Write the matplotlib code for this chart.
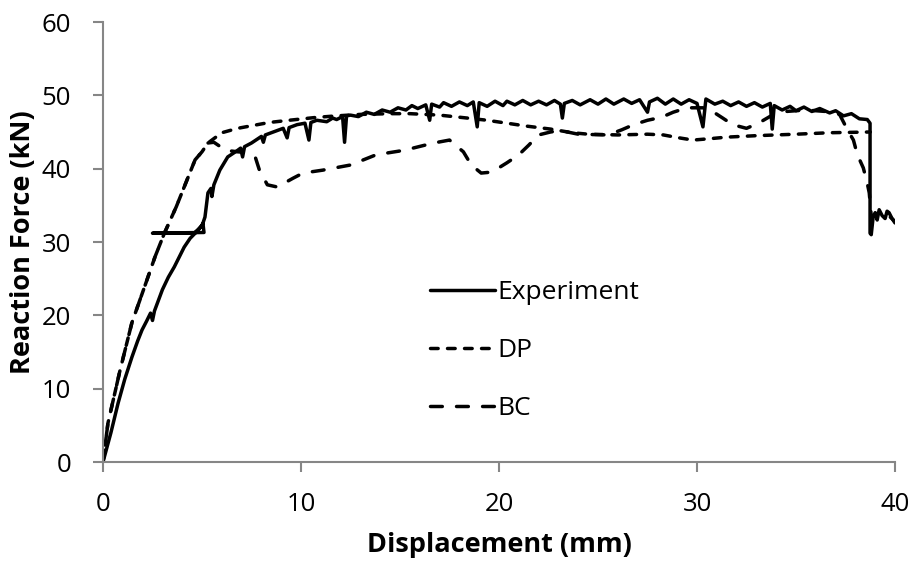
import matplotlib
matplotlib.use('Agg')
import matplotlib.pyplot as plt

plt.rcParams['font.family'] = ['Open Sans', 'DejaVu Sans']

# Experiment (solid)
exp_x = [0, 0.4, 0.76, 1.1, 1.46, 1.75, 1.97, 2.2, 2.4, 2.5, 2.6, 3.0, 3.3, 3.6, 4.1, 4.4, 4.8, 5.05, 5.1, 2.5,
         4.6, 5.0, 5.15, 5.3, 5.45, 5.5, 5.6, 5.9, 6.3, 6.8, 6.95, 7.05, 7.15, 7.5, 8.0, 8.1, 8.2, 8.6, 9.1, 9.3,
         9.4, 9.8, 10.2, 10.4, 10.5, 10.8, 11.3, 11.6, 11.8, 12.1, 12.2, 12.3, 12.5, 12.9, 13.3, 13.7, 14.1, 14.5, 14.9, 15.3,
         15.6, 15.9, 16.3, 16.5, 16.6, 17.0, 17.2, 17.6, 18.0, 18.4, 18.7, 18.9, 19.0, 19.4, 19.8, 20.2, 20.4, 20.8, 21.2, 21.6,
         22.0, 22.4, 22.8, 23.1, 23.2, 23.3, 23.7, 24.1, 24.6, 25.0, 25.4, 25.8, 26.3, 26.7, 27.1, 27.5, 27.6, 28.0, 28.4, 28.8,
         29.2, 29.6, 30.0, 30.3, 30.45, 30.9, 31.3, 31.7, 32.1, 32.5, 32.9, 33.3, 33.7, 33.8, 33.9, 34.3, 34.7, 35.0, 35.4, 35.8,
         36.2, 36.7, 37.0, 37.4, 37.8, 38.2, 38.6, 38.74, 38.74, 38.8, 38.9, 39.0, 39.1, 39.2, 39.35, 39.5, 39.6, 39.7, 39.85, 40.0]
exp_y = [0, 4.0, 8.0, 11.3, 14.3, 16.5, 18.0, 19.2, 20.3, 19.3, 20.6, 23.5, 25.2, 26.6, 29.3, 30.5, 31.6, 32.5, 31.3, 31.2,
         31.2, 32.2, 33.4, 36.7, 37.3, 36.2, 37.8, 39.8, 41.6, 42.5, 42.8, 41.6, 43.0, 43.5, 44.4, 43.6, 44.6, 45.0, 45.5, 44.2,
         45.6, 46.0, 46.2, 43.9, 46.3, 46.6, 46.4, 46.9, 46.7, 47.1, 43.6, 47.2, 47.3, 47.1, 47.7, 47.4, 48.0, 47.7, 48.3, 48.0,
         48.6, 48.2, 48.7, 46.6, 48.8, 48.4, 49.0, 48.5, 49.1, 48.6, 49.1, 45.7, 49.0, 48.5, 49.2, 48.6, 49.2, 48.7, 49.3, 48.7,
         49.2, 48.7, 49.3, 48.8, 46.9, 48.9, 49.3, 48.7, 49.4, 48.8, 49.5, 48.8, 49.5, 48.9, 49.4, 47.7, 49.1, 49.6, 48.8, 49.5,
         48.8, 49.4, 48.9, 45.7, 49.5, 48.8, 49.2, 48.6, 49.1, 48.5, 49.0, 48.4, 48.9, 45.4, 48.6, 48.0, 48.5, 47.9, 48.4, 47.8,
         48.2, 47.6, 47.9, 47.2, 47.5, 46.8, 46.7, 46.2, 31.2, 31.0, 33.5, 34.0, 33.0, 34.4, 33.6, 33.2, 34.2, 34.0, 33.2, 32.6]

# DP (short dashes)
dp_x = [0, 0.25, 0.86, 1.46, 2.1, 2.63, 3.1, 3.7, 4.1, 4.65, 5.0, 5.3, 6.0, 6.8, 7.8, 8.4, 9.4, 10.8, 11.8, 13.0,
        14.5, 15.5, 17.0, 18.4, 19.4, 20.4, 21.4, 22.6, 23.7, 24.5, 26.0, 27.5, 28.3, 29.1, 29.8, 30.7, 31.5, 33.0, 35.0, 36.7,
        38.75]
dp_y = [0, 5.3, 12.5, 19.0, 23.9, 28.0, 31.2, 34.8, 37.5, 41.2, 42.3, 43.5, 44.9, 45.5, 46.0, 46.3, 46.6, 47.0, 47.2, 47.4,
        47.5, 47.5, 47.3, 46.9, 46.6, 46.2, 45.8, 45.4, 44.9, 44.7, 44.6, 44.7, 44.6, 44.2, 43.9, 44.1, 44.3, 44.5, 44.7, 44.9,
        45.0]

# BC (long dashes)
bc_x = [0, 0.25, 0.86, 1.46, 2.1, 2.63, 3.1, 3.7, 4.1, 4.65, 5.0, 5.3, 5.6, 6.2, 6.8, 7.3, 7.7, 7.9, 8.3, 8.8,
        9.6, 10.1, 11.1, 12.5, 13.8, 15.2, 16.7, 17.5, 18.2, 18.6, 19.1, 19.5, 19.8, 20.4, 21.0, 21.5, 22.0, 22.6, 23.1, 24.0,
        25.5, 26.2, 26.8, 27.5, 28.2, 28.8, 29.5, 30.3, 30.9, 31.3, 31.8, 32.5, 33.1, 33.8, 34.5, 35.5, 36.5, 37.2, 37.6, 37.9,
        38.1, 38.4, 38.6, 38.7, 38.8, 39.2, 39.6, 40.0]
bc_y = [0, 5.3, 12.5, 19.0, 23.9, 28.0, 31.2, 34.8, 37.5, 41.2, 42.3, 43.5, 43.6, 42.5, 42.3, 42.2, 41.5, 39.8, 37.8, 37.5,
        38.7, 39.4, 39.8, 40.5, 41.9, 42.5, 43.5, 43.9, 42.3, 40.5, 39.4, 39.5, 39.8, 40.8, 41.9, 43.2, 44.6, 45.0, 45.2, 44.7,
        44.6, 45.3, 46.0, 46.6, 47.0, 47.7, 48.3, 48.3, 47.6, 46.9, 46.0, 45.5, 46.2, 47.3, 47.8, 48.0, 47.8, 47.4, 45.3, 43.9,
        41.9, 40.1, 38.0, 36.7, 33.5, 34.0, 33.8, 32.8]

fig = plt.figure(figsize=(9.14, 5.63), dpi=100)
ax = fig.add_axes([103 / 914, 1 - 462 / 563, 792 / 914, 440 / 563])

lw = 2.5
ax.plot(exp_x, exp_y, color='black', linewidth=lw, solid_capstyle='round', solid_joinstyle='round', label='Experiment')
ax.plot(dp_x, dp_y, color='black', linewidth=lw, dashes=(2.2, 2.7), dash_capstyle='round', label='DP')
ax.plot(bc_x, bc_y, color='black', linewidth=lw, dashes=(3.4, 4.1), dash_capstyle='round', label='BC')

ax.set_xlim(0, 40)
ax.set_ylim(0, 60)
ax.set_xticks([0, 10, 20, 30, 40])
ax.set_yticks([0, 10, 20, 30, 40, 50, 60])

grey = '#868686'
for side in ['top', 'right']:
    ax.spines[side].set_visible(False)
for side in ['left', 'bottom']:
    ax.spines[side].set_color(grey)
    ax.spines[side].set_linewidth(1.5)
ax.tick_params(axis='both', direction='out', length=7, width=1.5, color=grey, labelsize=18.5, labelcolor='black')
ax.tick_params(axis='y', pad=16)
ax.tick_params(axis='x', pad=14.5)

ax.set_xlabel('Displacement (mm)', fontsize=19.5, fontweight='bold', labelpad=11)
ax.set_ylabel('Reaction Force (kN)', fontsize=19.5, fontweight='bold', labelpad=4)

ax.legend(loc='upper left', bbox_to_anchor=((430 - 103) / 792, (462 - 280) / 440), frameon=False, fontsize=19,
          handlelength=2.45, handletextpad=0.1, labelspacing=1.25, borderpad=0, borderaxespad=0)

plt.savefig('out.png', dpi=100)
